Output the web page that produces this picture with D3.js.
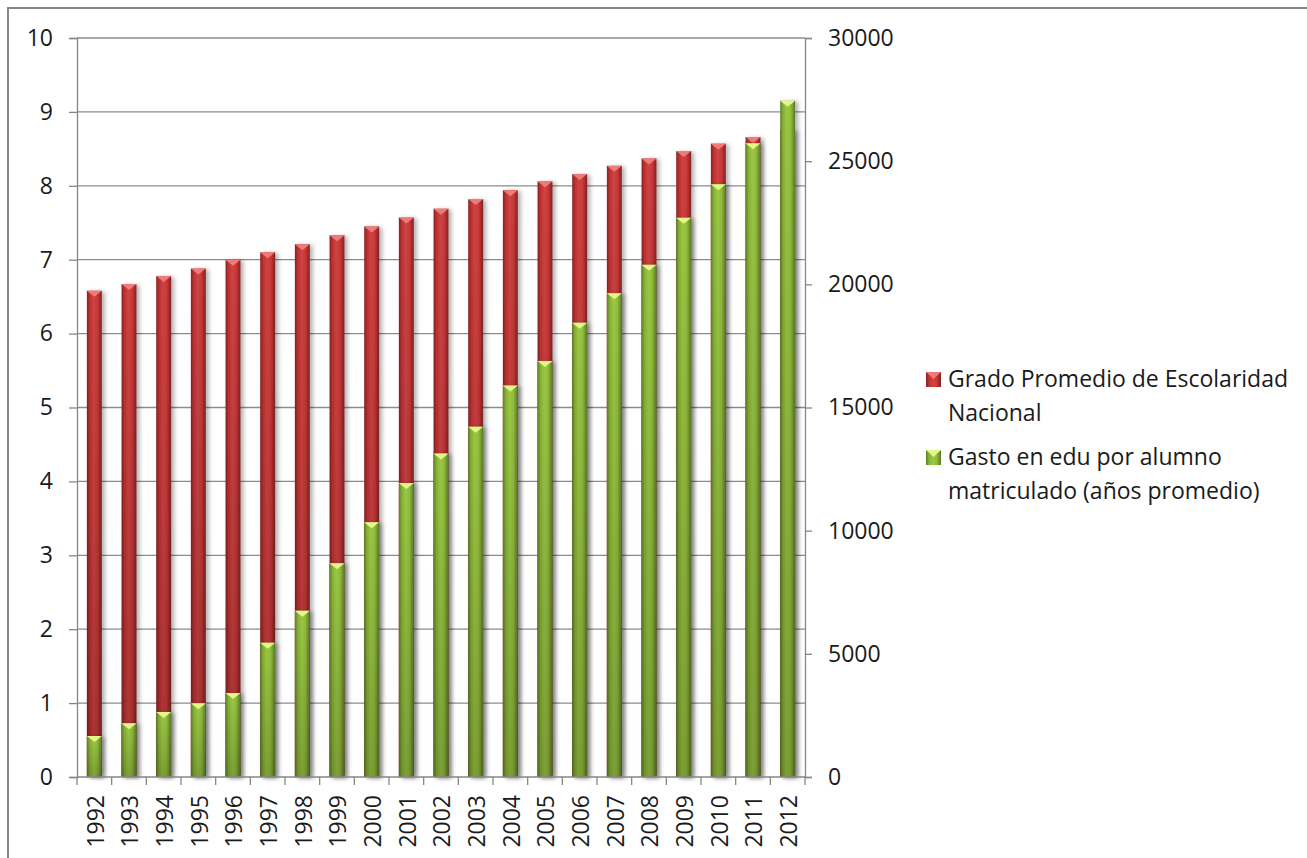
<!DOCTYPE html>
<html>
<head>
<meta charset="utf-8">
<script src="https://cdn.jsdelivr.net/npm/d3@7"></script>
<style>
  html, body { margin: 0; padding: 0; background: #fff; }
  svg { display: block; font-family: "Open Sans", sans-serif; }
</style>
</head>
<body>
<svg id="chart" width="1307" height="858"></svg>
<script>
const years = ["1992","1993","1994","1995","1996","1997","1998","1999","2000","2001","2002","2003","2004","2005","2006","2007","2008","2009","2010","2011","2012"];
const grado = [6.58, 6.67, 6.78, 6.88, 7.00, 7.10, 7.21, 7.33, 7.45, 7.57, 7.69, 7.82, 7.94, 8.06, 8.16, 8.27, 8.37, 8.47, 8.57, 8.66, 8.75];
const gasto = [1664, 2180, 2640, 2990, 3410, 5450, 6750, 8680, 10340, 11935, 13130, 14220, 15890, 16890, 18440, 19640, 20790, 22700, 24060, 25730, 27455];
const leftTicks = [0,1,2,3,4,5,6,7,8,9,10];
const rightTicks = [0,5000,10000,15000,20000,25000,30000];
const seriesNames = [
  ["Grado Promedio de Escolaridad", "Nacional"],
  ["Gasto en edu por alumno", "matriculado (años promedio)"]
];

const svg = d3.select("#chart");
const L = 77, R = 805, T = 38, B = 777;

// outer frame
svg.append("rect").attr("x", 8).attr("y", 8).attr("width", 1320).attr("height", 880)
  .attr("fill", "none").attr("stroke", "#868686").attr("stroke-width", 2);

const defs = svg.append("defs");
function hGrad(id, stops) {
  const g = defs.append("linearGradient").attr("id", id).attr("x1", "0").attr("x2", "1").attr("y1", "0").attr("y2", "0");
  stops.forEach(s => g.append("stop").attr("offset", s[0]).attr("stop-color", s[1]));
}
hGrad("gRed", [["0%", "#8a2222"], ["20%", "#bb3333"], ["45%", "#d24242"], ["70%", "#c83a3a"], ["100%", "#862020"]]);
hGrad("gGreen", [["0%", "#5e7f24"], ["20%", "#87b236"], ["45%", "#9cc843"], ["70%", "#92bd3e"], ["100%", "#5a7a22"]]);
const vg = defs.append("linearGradient").attr("id", "gShade").attr("x1", "0").attr("x2", "0").attr("y1", "0").attr("y2", "1");
vg.append("stop").attr("offset", "0%").attr("stop-color", "#000").attr("stop-opacity", 0);
vg.append("stop").attr("offset", "100%").attr("stop-color", "#000").attr("stop-opacity", 0.2);
const f = defs.append("filter").attr("id", "shadow").attr("x", "-50%").attr("y", "-5%").attr("width", "200%").attr("height", "110%");
f.append("feDropShadow").attr("dx", 3).attr("dy", 1).attr("stdDeviation", 2).attr("flood-color", "#000").attr("flood-opacity", 0.3);

const xCat = d3.scaleBand().domain(years).range([L, R]).padding(0);
const x = d3.scaleBand().domain(years).range([L, R]).paddingInner(0.57).paddingOuter(0.285);
const yL = d3.scaleLinear().domain([0, 10]).range([B, T]);
const yR = d3.scaleLinear().domain([0, 30000]).range([B, T]);

// gridlines
svg.append("g").selectAll("line").data(leftTicks.filter(d => d > 0)).join("line")
  .attr("x1", L).attr("x2", R).attr("y1", d => yL(d)).attr("y2", d => yL(d))
  .attr("stroke", "#8c8c8c").attr("stroke-width", 1.3);

// left axis
const axL = svg.append("g").attr("transform", `translate(${L},0)`)
  .call(d3.axisLeft(yL).tickValues(leftTicks).tickSize(8).tickPadding(16).tickFormat(d3.format("d")));
// right axis
const axR = svg.append("g").attr("transform", `translate(${R},0)`)
  .call(d3.axisRight(yR).tickValues(rightTicks).tickSize(7).tickPadding(16).tickFormat(d3.format("d")));
[axL, axR].forEach(a => {
  a.select(".domain").attr("stroke", "#868686").attr("stroke-width", 1.3);
  a.selectAll(".tick line").attr("stroke", "#868686").attr("stroke-width", 1.3);
  a.selectAll(".tick text").attr("font-size", 23).attr("fill", "#1a1a1a").attr("font-family", "Open Sans");
});

function drawBars(values, yScale, fillId, bevel) {
  const g = svg.append("g");
  const bw = x.bandwidth();
  const items = years.map((yr, i) => ({yr, v: values[i]})).filter(d => d.v != null);
  const grp = g.selectAll("g").data(items).join("g").attr("filter", "url(#shadow)");
  grp.append("rect")
    .attr("x", d => x(d.yr)).attr("width", bw)
    .attr("y", d => yScale(d.v)).attr("height", d => yScale(0) - yScale(d.v))
    .attr("fill", `url(#${fillId})`);
  grp.append("rect")
    .attr("x", d => x(d.yr)).attr("width", bw)
    .attr("y", d => yScale(d.v)).attr("height", d => yScale(0) - yScale(d.v))
    .attr("fill", "url(#gShade)");
  grp.append("path")
    .attr("d", d => {
      const x0 = x(d.yr), x1 = x0 + bw, y0 = yScale(d.v);
      return `M${x0},${y0} L${x1},${y0} L${x1 - 3},${y0 + 2.5} L${x0 + bw / 2},${y0 + 6} L${x0 + 3},${y0 + 2.5} Z`;
    })
    .attr("fill", bevel);
}
drawBars(grado, yL, "gRed", "#ee7a7a");
drawBars(gasto, yR, "gGreen", "#e4f58a");

// bottom axis
svg.append("line").attr("x1", L).attr("x2", R).attr("y1", B).attr("y2", B)
  .attr("stroke", "#868686").attr("stroke-width", 1.3);
const bounds = years.map(yr => xCat(yr)).concat([R]);
svg.append("g").selectAll("line").data(bounds).join("line")
  .attr("x1", d => d).attr("x2", d => d).attr("y1", B).attr("y2", B + 8)
  .attr("stroke", "#868686").attr("stroke-width", 1.3);
svg.append("g").selectAll("text").data(years).join("text")
  .attr("transform", d => `translate(${x(d) + x.bandwidth() / 2 + 1},795) rotate(-90)`)
  .attr("text-anchor", "end").attr("dy", "0.36em")
  .attr("font-size", 23).attr("fill", "#1a1a1a")
  .text(d => d);

// legend
const legY = [379, 457];
const legColors = [["gRed", "#ee7a7a"], ["gGreen", "#e4f58a"]];
seriesNames.forEach((lines, i) => {
  const g = svg.append("g");
  const my = legY[i];
  g.append("rect").attr("x", 926).attr("y", my - 7).attr("width", 15).attr("height", 15)
    .attr("fill", `url(#${legColors[i][0]})`);
  g.append("path").attr("d", `M926,${my - 7} L941,${my - 7} L933.5,${my} Z`).attr("fill", legColors[i][1]);
  lines.forEach((t, j) => {
    g.append("text").attr("x", 948).attr("y", my + j * 34).attr("dy", "0.35em")
      .attr("font-size", 23).attr("fill", "#1a1a1a").text(t);
  });
});
</script>
</body>
</html>
